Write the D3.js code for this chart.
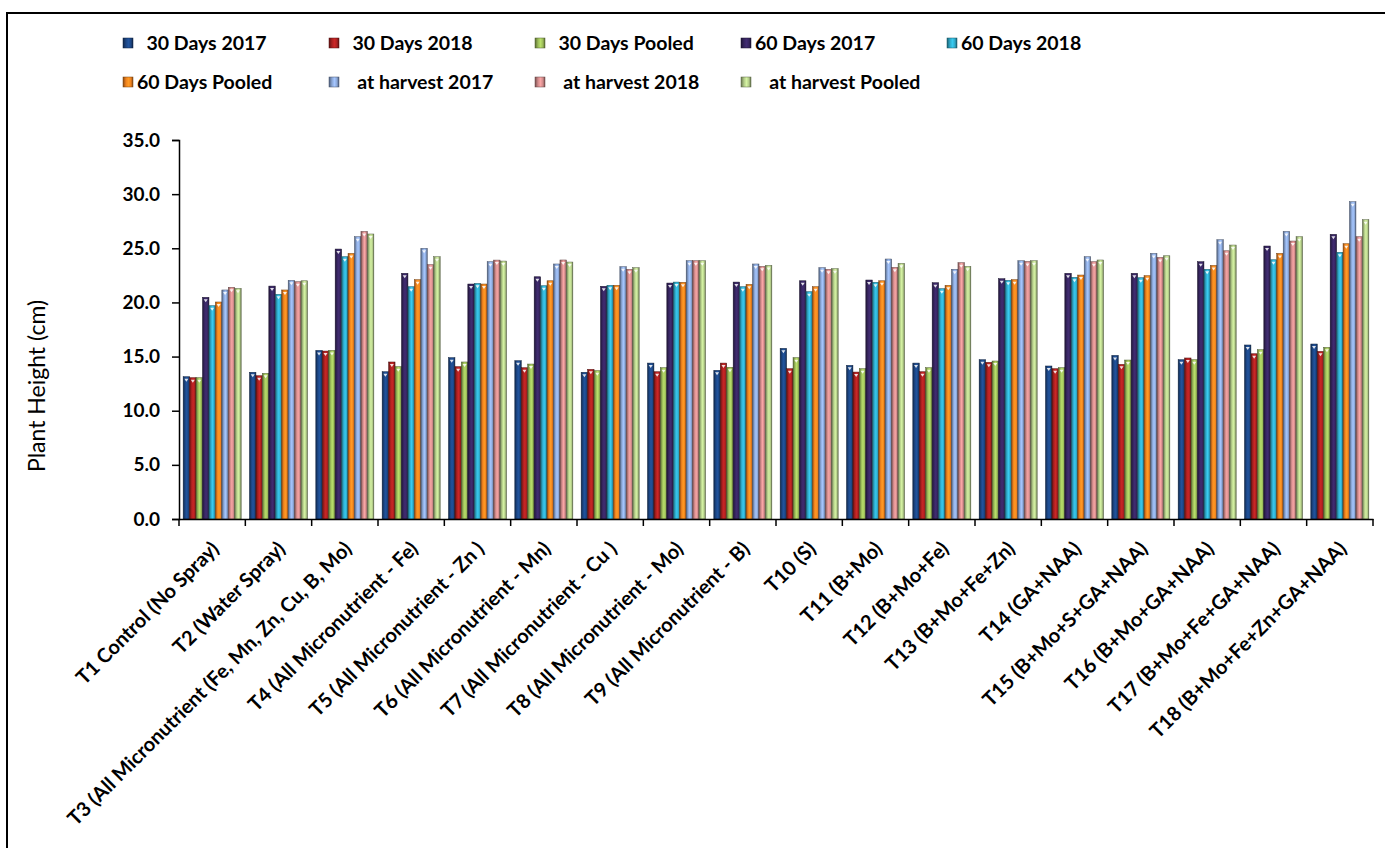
<!DOCTYPE html>
<meta charset="utf-8">
<title>Plant height</title>
<style>
  body { margin: 0; background: #fff; }
  text { font-family: Lato, "Noto Sans", sans-serif; fill: #000; }
  .axis text { font-size: 19px; font-weight: 700; }
  .axis text.lbl { font-size: 20px; }
  .axis path, .axis line { stroke: #000; stroke-width: 1.5px; }
  .legend text { font-size: 19.5px; font-weight: 700; white-space: pre; }
</style>
<body>
<script src="https://d3js.org/d3.v7.min.js"></script>
<script>
var categories = ["T1 Control (No Spray)", "T2 (Water Spray)", "T3 (All Micronutrient (Fe, Mn, Zn, Cu, B, Mo)",
  "T4 (All Micronutrient - Fe)", "T5 (All Micronutrient - Zn )", "T6 (All Micronutrient - Mn)",
  "T7 (All Micronutrient - Cu )", "T8 (All Micronutrient - Mo)", "T9 (All Micronutrient - B)",
  "T10 (S)", "T11 (B+Mo)", "T12 (B+Mo+Fe)", "T13 (B+Mo+Fe+Zn)", "T14 (GA+NAA)",
  "T15 (B+Mo+S+GA+NAA)", "T16 (B+Mo+GA+NAA)", "T17 (B+Mo+Fe+GA+NAA)", "T18 (B+Mo+Fe+Zn+GA+NAA)"];

var seriesNames = ["  30 Days 2017", "  30 Days 2018", "  30 Days Pooled", "60 Days 2017", "60 Days 2018",
  "60 Days Pooled", "   at harvest 2017", "   at harvest 2018", "   at harvest Pooled"];

var days30_2017   = [13.14,13.55,15.57,13.60,14.90,14.62,13.55,14.40,13.73,15.76,14.19,14.40,14.71,14.13,15.11,14.71,16.07,16.16];
var days30_2018   = [13.05,13.23,15.51,14.50,14.07,13.97,13.82,13.60,14.40,13.88,13.57,13.60,14.47,13.88,14.28,14.87,15.26,15.48];
var days30_pooled = [13.05,13.45,15.57,14.07,14.50,14.31,13.70,13.97,14.01,14.90,13.88,13.97,14.59,13.97,14.68,14.71,15.63,15.85];
var days60_2017   = [20.47,21.51,24.93,22.69,21.70,22.37,21.49,21.79,21.88,22.00,22.07,21.82,22.19,22.69,22.69,23.76,25.21,26.29];
var days60_2018   = [19.70,20.75,24.22,21.45,21.76,21.54,21.58,21.88,21.45,20.99,21.86,21.27,22.04,22.32,22.28,23.06,23.94,24.63];
var days60_pooled = [20.04,21.15,24.53,22.10,21.70,22.00,21.58,21.86,21.67,21.45,22.00,21.58,22.10,22.53,22.47,23.42,24.53,25.42];
var harvest_2017  = [21.15,22.04,26.07,25.00,23.76,23.55,23.30,23.85,23.55,23.21,24.01,23.06,23.85,24.22,24.53,25.79,26.56,29.30];
var harvest_2018  = [21.40,21.91,26.56,23.49,23.91,23.92,23.06,23.85,23.33,23.06,23.24,23.67,23.79,23.76,24.16,24.77,25.67,26.07];
var harvest_pooled= [21.30,22.00,26.32,24.22,23.82,23.73,23.21,23.85,23.42,23.12,23.61,23.33,23.85,23.92,24.31,25.30,26.07,27.64];

var yTicks = [0, 5, 10, 15, 20, 25, 30, 35];

var seriesValues = [days30_2017, days30_2018, days30_pooled, days60_2017, days60_2018,
  days60_pooled, harvest_2017, harvest_2018, harvest_pooled];
var colors = ["#1c4684", "#aa2020", "#9bbb59", "#36255f", "#2fa9c9", "#f0821e", "#8aa6d6", "#d08a8a", "#b2cb88"];

var W = 1385, H = 848;
var plotLeft = 179, plotRight = 1373, plotTop = 140, plotBottom = 519;

var svg = d3.select("body").append("svg")
    .attr("width", W).attr("height", H);

// frame
svg.append("rect")
    .attr("x", 7).attr("y", 13).attr("width", 1420).attr("height", 900)
    .attr("fill", "none").attr("stroke", "#000").attr("stroke-width", 2);

var defs = svg.append("defs");
colors.forEach(function(c, i) {
  var g = defs.append("linearGradient").attr("id", "g" + i)
      .attr("x1", "0").attr("x2", "1").attr("y1", "0").attr("y2", "0");
  var base = d3.color(c);
  [[0, base.darker(1.6)], [0.3, base], [0.55, base.brighter(0.5)], [0.8, base], [1, base.darker(1.8)]]
    .forEach(function(s) {
      g.append("stop").attr("offset", s[0]).attr("stop-color", s[1].formatHex());
    });
});

var x = d3.scaleBand()
    .domain(categories)
    .range([plotLeft, plotRight])
    .paddingInner(0.125)
    .paddingOuter(0.0625);

var xs = d3.scaleBand()
    .domain(d3.range(seriesNames.length))
    .range([0, x.bandwidth()]);

var y = d3.scaleLinear()
    .domain([0, 35])
    .range([plotBottom, plotTop]);

// bars
var groups = svg.append("g").selectAll("g")
    .data(categories)
    .join("g")
    .attr("transform", function(d) { return "translate(" + x(d) + ",0)"; });

function rows(d, i) {
  return seriesValues.map(function(s, k) { return {k: k, v: s[i]}; });
}

groups.selectAll("rect")
    .data(rows)
    .join("rect")
    .attr("x", function(d) { return xs(d.k); })
    .attr("width", xs.bandwidth())
    .attr("y", function(d) { return y(d.v); })
    .attr("height", function(d) { return y(0) - y(d.v); })
    .attr("fill", function(d) { return "url(#g" + d.k + ")"; })
    .attr("stroke", function(d) { return d3.color(colors[d.k]).darker(2).formatHex(); })
    .attr("stroke-width", 0.5);

// small bevel marker at bar tops
groups.selectAll("path.tip")
    .data(rows)
    .join("path")
    .attr("class", "tip")
    .attr("d", function(d) {
      var cx = xs(d.k) + xs.bandwidth() / 2, ty = y(d.v) + 2;
      return "M" + (cx - 2) + "," + ty + "L" + (cx + 2) + "," + ty + "L" + cx + "," + (ty + 3) + "Z";
    })
    .attr("fill", "#fff").attr("opacity", 0.85);

// y axis
svg.append("g").attr("class", "axis")
    .attr("transform", "translate(" + plotLeft + ",0)")
    .call(d3.axisLeft(y).tickValues(yTicks).tickSize(7).tickPadding(12).tickFormat(d3.format(".1f")));

// x axis
var xAxis = svg.append("g").attr("class", "axis")
    .attr("transform", "translate(0," + plotBottom + ")")
    .call(d3.axisBottom(x).tickSize(0).tickSizeOuter(0).tickFormat(""));

// tick marks between categories
xAxis.selectAll("line.sep")
    .data(d3.range(categories.length + 1))
    .join("line")
    .attr("class", "sep")
    .attr("x1", function(i) { return plotLeft + i * x.step(); })
    .attr("x2", function(i) { return plotLeft + i * x.step(); })
    .attr("y1", 0).attr("y2", 7);

xAxis.selectAll("text.lbl")
    .data(categories)
    .join("text")
    .attr("class", "lbl")
    .attr("text-anchor", "end")
    .attr("transform", function(d) {
      return "translate(" + (x(d) + x.bandwidth() / 2 + 8) + ",31) rotate(-45)";
    })
    .text(function(d) { return d; });

// y axis title
svg.append("text")
    .attr("transform", "translate(45,386) rotate(-90)")
    .attr("text-anchor", "middle")
    .style("font-size", "23px")
    .text("Plant Height (cm)");

// legend
var legend = svg.append("g").attr("class", "legend")
    .selectAll("g")
    .data(seriesNames)
    .join("g")
    .attr("transform", function(d, i) {
      var col = i < 5 ? i : i - 5, row = i < 5 ? 0 : 1;
      return "translate(" + (123 + col * 206) + "," + (43 + row * 39) + ")";
    });

legend.append("rect")
    .attr("x", 0).attr("y", -5).attr("width", 10).attr("height", 10)
    .attr("fill", function(d, i) { return "url(#g" + i + ")"; })
    .attr("stroke", function(d, i) { return d3.color(colors[i]).darker(2).formatHex(); })
    .attr("stroke-width", 0.5);

legend.append("text")
    .attr("x", 14).attr("y", 0).attr("dy", "0.35em")
    .text(function(d) { return d; });
</script>
</body>
